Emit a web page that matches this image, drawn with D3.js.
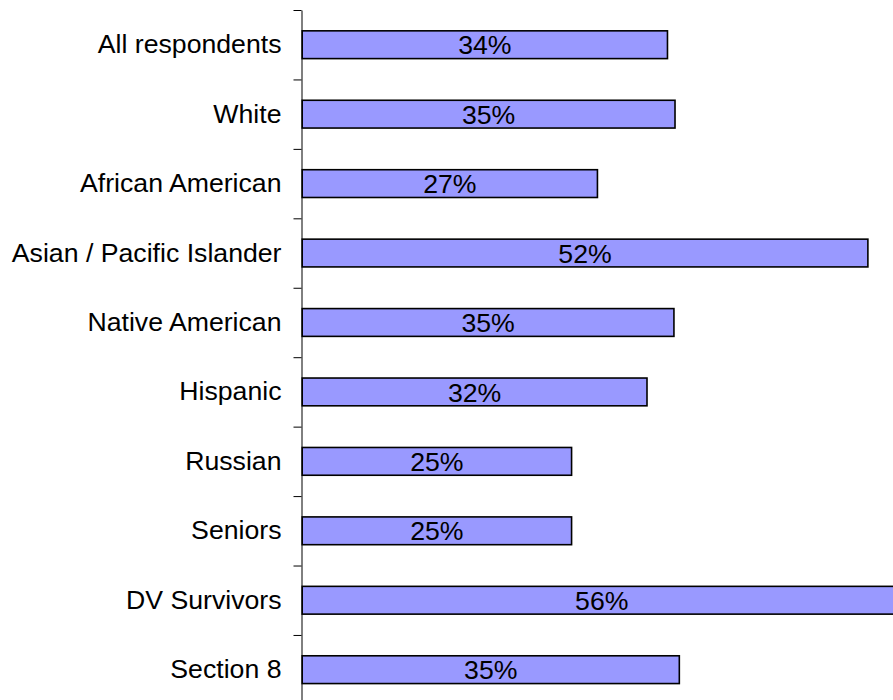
<!DOCTYPE html>
<html>
<head>
<meta charset="utf-8">
<script src="https://cdn.jsdelivr.net/npm/d3@7"></script>
<style>
  html, body { margin: 0; padding: 0; background: #fff; }
  svg { display: block; }
  text { font-family: Arial, "Liberation Sans", sans-serif; }
</style>
</head>
<body>
<svg id="chart" width="893" height="700"></svg>
<script>
const categories = ["All respondents", "White", "African American", "Asian / Pacific Islander",
  "Native American", "Hispanic", "Russian", "Seniors", "DV Survivors", "Section 8"];
const values = [33.9, 34.6, 27.4, 52.5, 34.5, 32.0, 25.0, 25.0, 55.6, 35.0];
const valueLabels = ["34%", "35%", "27%", "52%", "35%", "32%", "25%", "25%", "56%", "35%"];

(function () {
const svg = d3.select("#chart");
const axisX = 301.5;
const barX0 = 302.2;
const yTop = 10, yBottom = 704.4;

const x = d3.scaleLinear().domain([0, 60]).range([barX0, barX0 + 60 * 10.775]);
const y = d3.scaleBand().domain(categories).range([yTop, yBottom]).paddingInner(0.6).paddingOuter(0.3);
const yTicks = d3.scaleLinear().domain([0, categories.length]).range([yTop, yBottom]);

// axis line with ticks between categories
const tickAxis = svg.append("g")
  .attr("transform", `translate(${axisX},0)`)
  .call(d3.axisLeft(yTicks).tickValues(d3.range(categories.length + 1)).tickFormat("").tickSize(8).tickSizeOuter(0));
tickAxis.selectAll("path, line").attr("stroke", "#000");

// bars
svg.append("g").selectAll("rect").data(categories).join("rect")
  .attr("x", x(0))
  .attr("y", d => y(d))
  .attr("width", (d, i) => x(values[i]) - x(0))
  .attr("height", y.bandwidth())
  .attr("fill", "#9999FF")
  .attr("stroke", "#000")
  .attr("stroke-width", 1.6);

// value labels
svg.append("g").selectAll("text").data(categories).join("text")
  .attr("x", (d, i) => (x(0) + x(values[i])) / 2)
  .attr("y", d => y(d) + y.bandwidth() / 2)
  .attr("dy", "0.36em")
  .attr("text-anchor", "middle")
  .attr("font-size", "26.67px")
  .attr("fill", "#000")
  .text((d, i) => valueLabels[i]);

// category labels
const labAxis = svg.append("g")
  .attr("transform", `translate(${axisX},0)`)
  .call(d3.axisLeft(y).tickSize(0).tickPadding(20));
labAxis.select(".domain").remove();
labAxis.selectAll("text")
  .attr("font-size", "26.67px")
  .attr("font-family", "Arial, 'Liberation Sans', sans-serif")
  .attr("fill", "#000");
})();
</script>
</body>
</html>
